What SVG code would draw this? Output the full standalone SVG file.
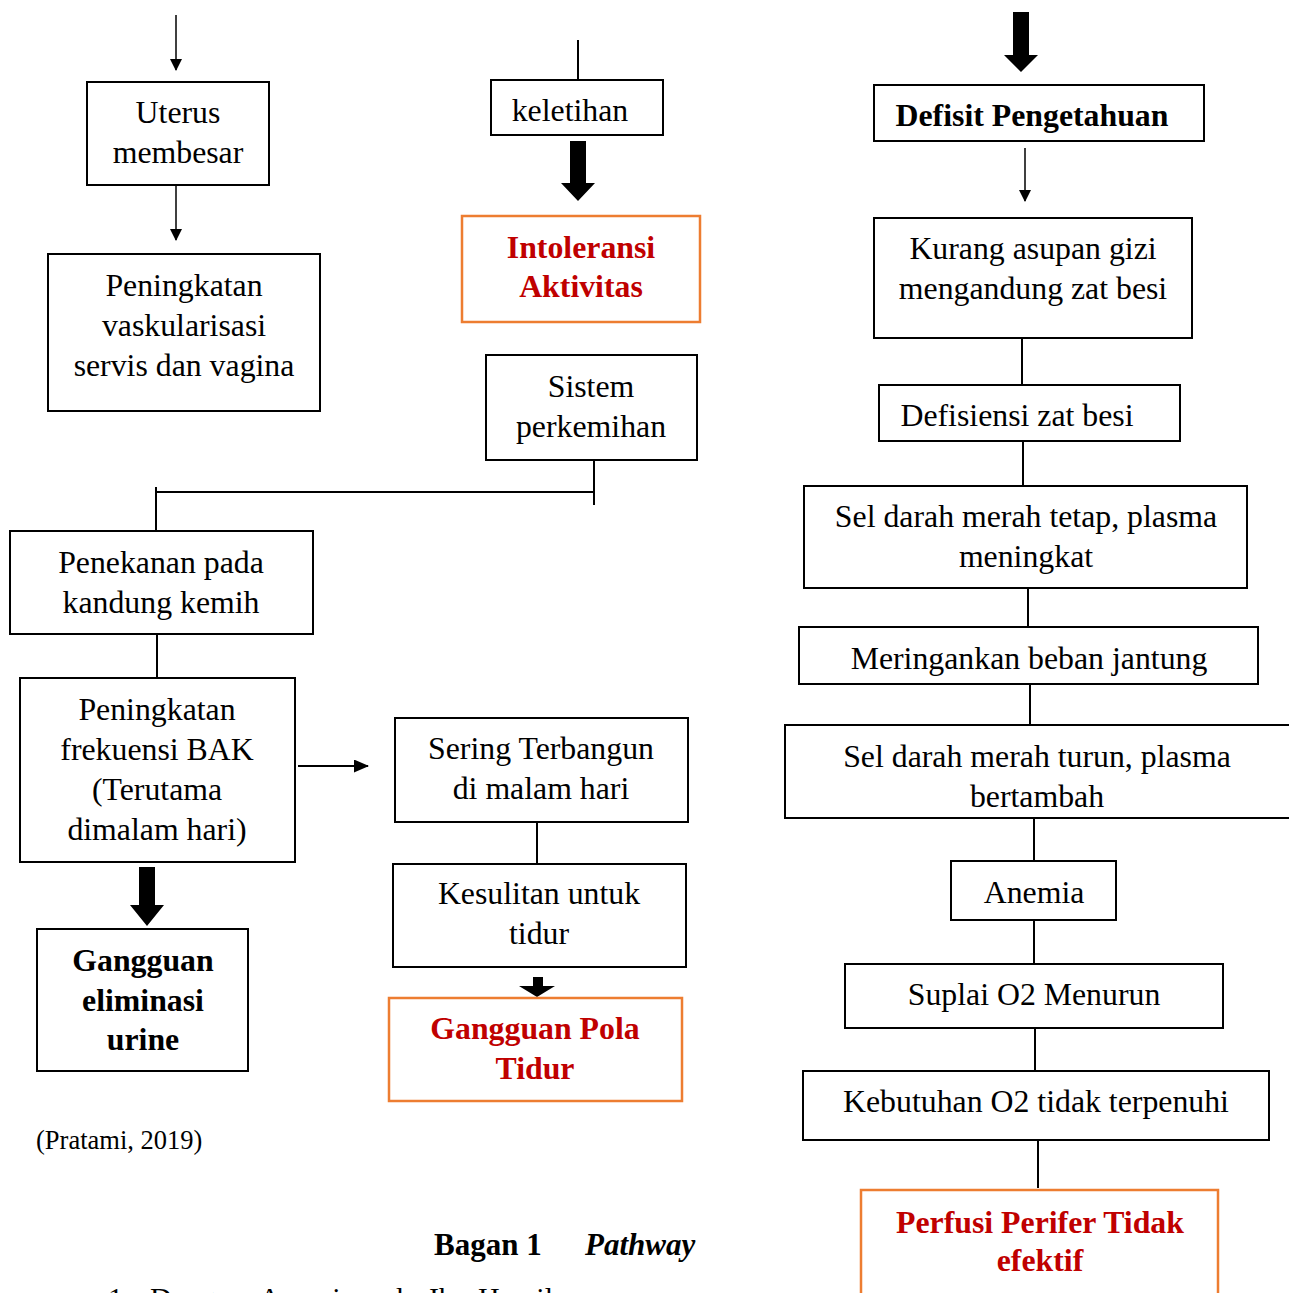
<svg xmlns="http://www.w3.org/2000/svg" width="1289" height="1293" viewBox="0 0 1289 1293">
<style>
.box{fill:#fff;stroke:#000;stroke-width:2}
.obox{fill:#fff;stroke:#ED7D31;stroke-width:2.5}
.t{font-family:"Liberation Serif","Times New Roman",serif;font-size:31.8px;fill:#000;text-anchor:middle}
.b{font-weight:bold}
.r{fill:#C00000;font-weight:bold}
.ln{stroke:#000;stroke-width:2;fill:none}
.ar{stroke:#000;stroke-width:1.5;fill:none;marker-end:url(#ah)}
.thick{fill:#000}
.plain{font-family:"Liberation Serif","Times New Roman",serif;fill:#000}
</style>
<defs>
<marker id="ah" markerWidth="12" markerHeight="14" refX="11" refY="6" orient="auto" markerUnits="userSpaceOnUse">
<path d="M0,0 L12,6 L0,12 Z" fill="#000"/>
</marker>
<marker id="ah2" markerWidth="16" markerHeight="14" refX="14" refY="6.5" orient="auto" markerUnits="userSpaceOnUse">
<path d="M0,0 L15,6.5 L0,13 Z" fill="#000"/>
</marker>
</defs>
<rect width="1289" height="1293" fill="#fff"/>

<g id="connectors">
<line class="ar" x1="176" y1="15" x2="176" y2="70"/>
<line class="ar" x1="176" y1="186" x2="176" y2="240"/>
<line class="ln" x1="594" y1="460" x2="594" y2="505"/>
<line class="ln" x1="156" y1="492" x2="594" y2="492"/>
<line class="ln" x1="156" y1="487" x2="156" y2="531"/>
<line class="ln" x1="157" y1="634" x2="157" y2="678"/>
<line stroke="#000" stroke-width="2" x1="298" y1="766" x2="368" y2="766" marker-end="url(#ah2)"/>
<path class="thick" d="M139,867 H155 V905 H164 L147,926 L130,905 H139 Z"/>
<line class="ln" x1="578" y1="40" x2="578" y2="80"/>
<path class="thick" d="M570,141 H586 V183 H595 L578,201 L561,183 H570 Z"/>
<line class="ln" x1="537" y1="822" x2="537" y2="864"/>
<path class="thick" d="M533,977 H543 V986 H555 L537,997 L519,986 H533 Z"/>
<path class="thick" d="M1013,12 H1029 V55 H1038 L1021,72 L1004,55 H1013 Z"/>
<line class="ar" x1="1025" y1="148" x2="1025" y2="201"/>
<line class="ln" x1="1022" y1="338" x2="1022" y2="385"/>
<line class="ln" x1="1023" y1="441" x2="1023" y2="486"/>
<line class="ln" x1="1028" y1="588" x2="1028" y2="627"/>
<line class="ln" x1="1030" y1="684" x2="1030" y2="725"/>
<line class="ln" x1="1034" y1="818" x2="1034" y2="861"/>
<line class="ln" x1="1034" y1="920" x2="1034" y2="964"/>
<line class="ln" x1="1035" y1="1028" x2="1035" y2="1071"/>
<line class="ln" x1="1038" y1="1140" x2="1038" y2="1188"/>
</g>

<g id="uterus"><rect class="box" x="87" y="82" width="182" height="103"/>
<text class="t" x="178" y="123">Uterus</text><text class="t" x="178" y="163">membesar</text></g>

<g id="vaskularisasi"><rect class="box" x="48" y="254" width="272" height="157"/>
<text class="t" x="184" y="296">Peningkatan</text><text class="t" x="184" y="336">vaskularisasi</text><text class="t" x="184" y="376">servis dan vagina</text></g>

<g id="penekanan"><rect class="box" x="10" y="531" width="303" height="103"/>
<text class="t" x="161" y="573">Penekanan pada</text><text class="t" x="161" y="613">kandung kemih</text></g>

<g id="frekuensi"><rect class="box" x="20" y="678" width="275" height="184"/>
<text class="t" x="157" y="720">Peningkatan</text><text class="t" x="157" y="760">frekuensi BAK</text><text class="t" x="157" y="800">(Terutama</text><text class="t" x="157" y="840">dimalam hari)</text></g>

<g id="eliminasi"><rect class="box" x="37" y="929" width="211" height="142"/>
<text class="t b" x="143" y="971">Gangguan</text><text class="t b" x="143" y="1011">eliminasi</text><text class="t b" x="143" y="1050">urine</text></g>

<g id="keletihan"><rect class="box" x="491" y="80" width="172" height="55"/>
<text class="t" x="570" y="121">keletihan</text></g>

<g id="intoleransi"><rect class="obox" x="462" y="216" width="238" height="106"/>
<text class="t r" x="581" y="258">Intoleransi</text><text class="t r" x="581" y="297">Aktivitas</text></g>

<g id="sistem"><rect class="box" x="486" y="355" width="211" height="105"/>
<text class="t" x="591" y="397">Sistem</text><text class="t" x="591" y="437">perkemihan</text></g>

<g id="terbangun"><rect class="box" x="395" y="718" width="293" height="104"/>
<text class="t" x="541" y="759">Sering Terbangun</text><text class="t" x="541" y="799">di malam hari</text></g>

<g id="kesulitan"><rect class="box" x="393" y="864" width="293" height="103"/>
<text class="t" x="539" y="904">Kesulitan untuk</text><text class="t" x="539" y="944">tidur</text></g>

<g id="polatidur"><rect class="obox" x="389" y="998" width="293" height="103"/>
<text class="t r" x="535" y="1039">Gangguan Pola</text><text class="t r" x="535" y="1079">Tidur</text></g>

<g id="defisit"><rect class="box" x="874" y="85" width="330" height="56"/>
<text class="t b" x="1032" y="126">Defisit Pengetahuan</text></g>

<g id="asupan"><rect class="box" x="874" y="218" width="318" height="120"/>
<text class="t" x="1033" y="259">Kurang asupan gizi</text><text class="t" x="1033" y="299">mengandung zat besi</text></g>

<g id="defisiensi"><rect class="box" x="879" y="385" width="301" height="56"/>
<text class="t" x="1017" y="426">Defisiensi zat besi</text></g>

<g id="tetap"><rect class="box" x="804" y="486" width="443" height="102"/>
<text class="t" x="1026" y="527">Sel darah merah tetap, plasma</text><text class="t" x="1026" y="567">meningkat</text></g>

<g id="jantung"><rect class="box" x="799" y="627" width="459" height="57"/>
<text class="t" x="1029" y="669">Meringankan beban jantung</text></g>

<g id="turun"><rect class="box" x="785" y="725" width="520" height="93"/>
<text class="t" x="1037" y="767">Sel darah merah turun, plasma</text><text class="t" x="1037" y="807">bertambah</text></g>

<g id="anemia"><rect class="box" x="951" y="861" width="165" height="59"/>
<text class="t" x="1034" y="903">Anemia</text></g>

<g id="suplai"><rect class="box" x="845" y="964" width="378" height="64"/>
<text class="t" x="1034" y="1005">Suplai O2 Menurun</text></g>

<g id="kebutuhan"><rect class="box" x="803" y="1071" width="466" height="69"/>
<text class="t" x="1036" y="1112">Kebutuhan O2 tidak terpenuhi</text></g>

<g id="perfusi"><rect class="obox" x="861" y="1190" width="357" height="120"/>
<text class="t r" x="1040" y="1233">Perfusi Perifer Tidak</text><text class="t r" x="1040" y="1271">efektif</text></g>

<text class="plain" x="36" y="1149" font-size="26.5">(Pratami, 2019)</text>
<text class="plain" x="434" y="1255" font-size="31" font-weight="bold">Bagan 1</text>
<text class="plain" x="585" y="1255" font-size="31" font-weight="bold" font-style="italic">Pathway</text>
<text class="plain" y="1308" font-size="30"><tspan x="108">1.</tspan><tspan x="150">Dengan</tspan><tspan x="259">Anemia</tspan><tspan x="360">pada</tspan><tspan x="429">Ibu</tspan><tspan x="478">Hamil</tspan></text>
</svg>
